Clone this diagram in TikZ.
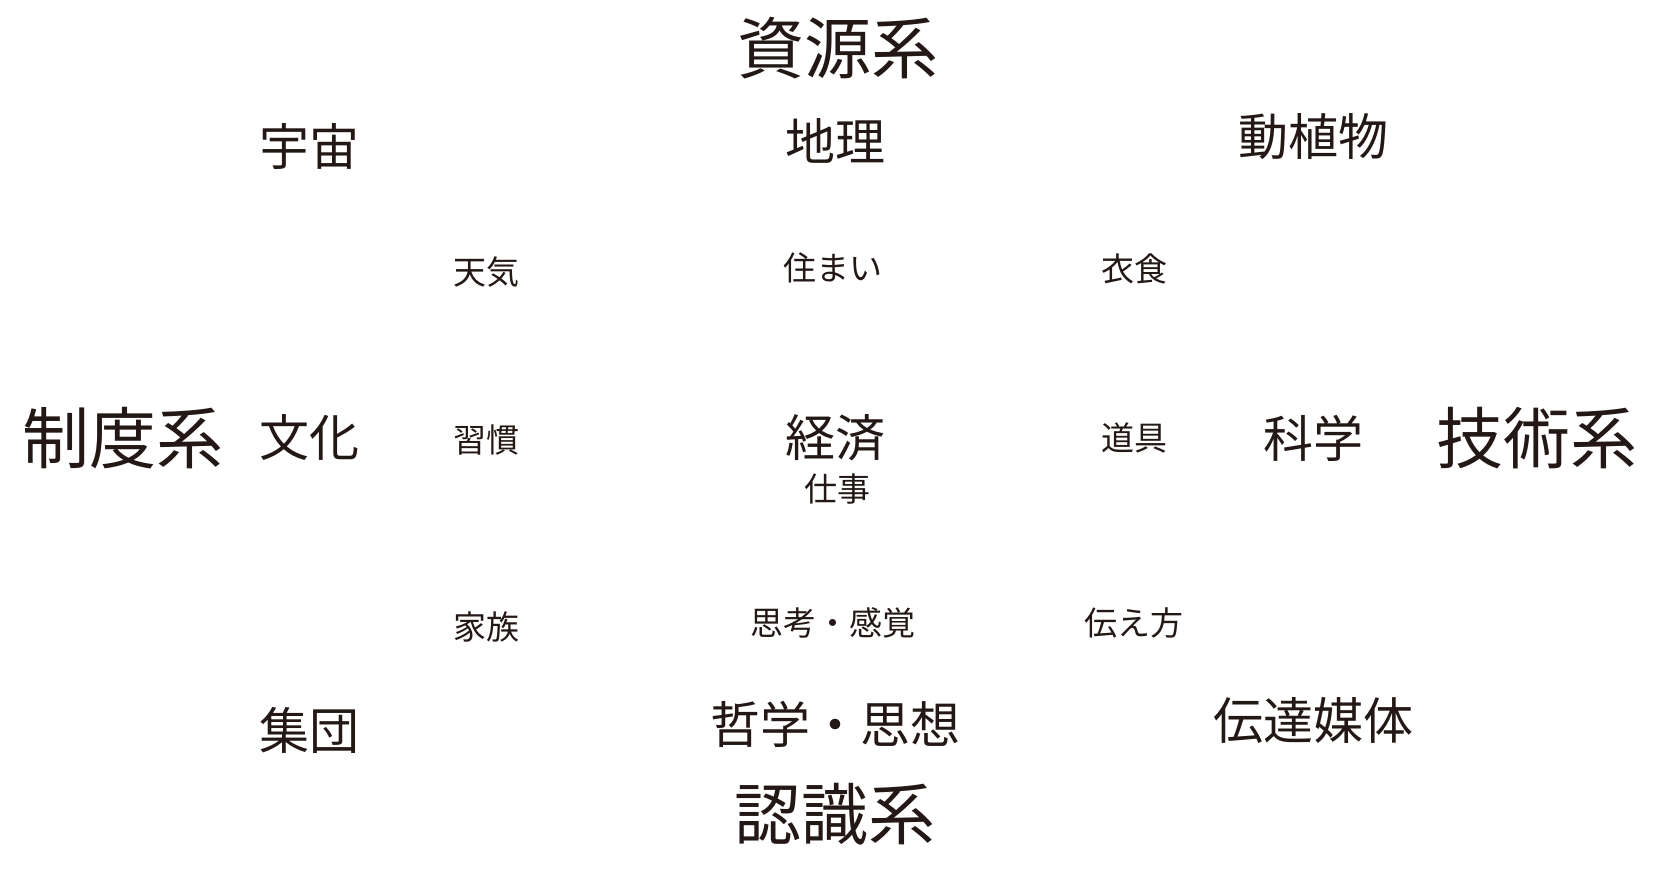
\documentclass[tikz,border=0pt]{standalone}
\usepackage{fontspec}
\setmainfont{Noto Sans CJK JP}
\usepackage{xcolor}
\usepackage{tikz}
\definecolor{fgtext}{HTML}{231815}

\begin{document}
\begin{tikzpicture}[
        x=1pt, y=-1pt,
        sys/.style={
            draw=none,
            text=fgtext,
            font=\fontsize{67}{72}\selectfont,
            inner sep=0pt
        },
        field/.style={
            draw=none,
            text=fgtext,
            font=\fontsize{50}{54}\selectfont,
            inner sep=0pt
        },
        item/.style={
            draw=none,
            text=fgtext,
            font=\fontsize{33}{37}\selectfont,
            inner sep=0pt
        }
    ]
        \useasboundingbox (0,0) rectangle (1667,875);

        % Systems
        \node[sys] (resource) at (838, 48) {資源系};
        \node[sys] (institution) at (123, 438) {制度系};
        \node[sys] (technology) at (1537, 438) {技術系};
        \node[sys] (cognition) at (835, 814) {認識系};

        % Fields
        \node[field] (space) at (309, 146) {宇宙};
        \node[field] (geography) at (835, 141) {地理};
        \node[field] (biota) at (1313, 137) {動植物};
        \node[field] (culture) at (309, 438) {文化};
        \node[field] (economy) at (835, 438) {経済};
        \node[field] (science) at (1313, 438) {科学};
        \node[field] (group) at (309, 730) {集団};
        \node[field] (philosophy) at (835, 724) {哲学・思想};
        \node[field] (media) at (1313, 721) {伝達媒体};

        % Items
        \node[item] (weather) at (486, 272) {天気};
        \node[item] (housing) at (833, 268) {住まい};
        \node[item] (food) at (1134, 269) {衣食};
        \node[item] (custom) at (486, 440) {習慣};
        \node[item] (work) at (837, 489) {仕事};
        \node[item] (tools) at (1134, 438) {道具};
        \node[item] (family) at (486, 627) {家族};
        \node[item] (thinking) at (833, 623) {思考・感覚};
        \node[item] (conveying) at (1134, 623) {伝え方};
    \end{tikzpicture}
\end{document}
